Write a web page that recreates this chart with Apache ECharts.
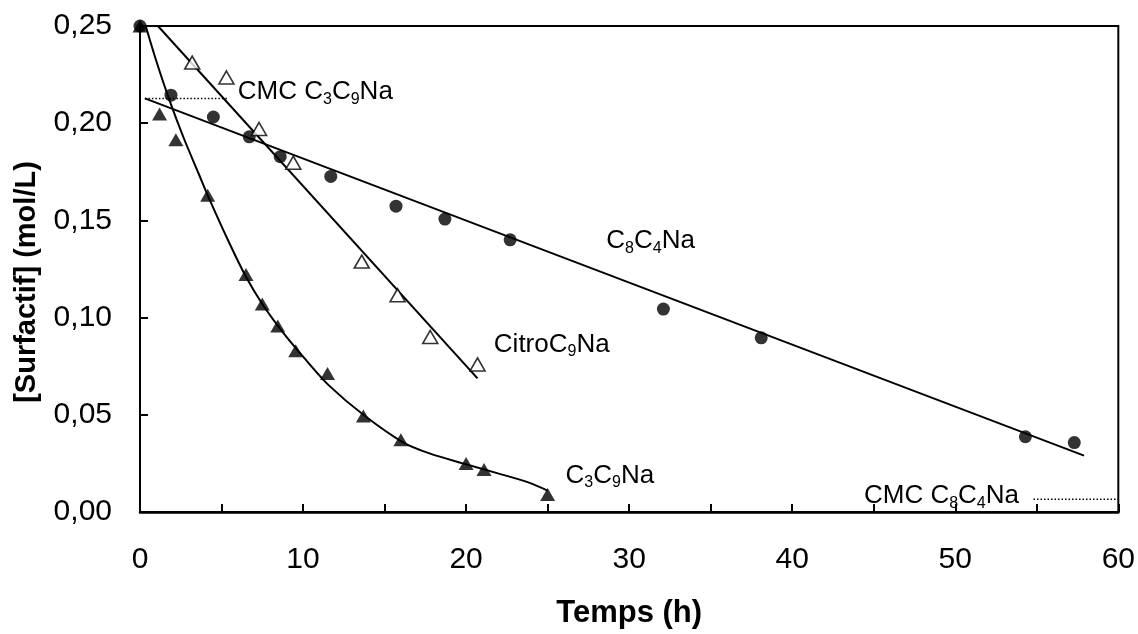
<!DOCTYPE html>
<html>
<head>
<meta charset="utf-8">
<script src="https://cdn.jsdelivr.net/npm/echarts@6/dist/echarts.min.js"></script>
<style>
  html, body { margin: 0; padding: 0; background: #fff; }
  #chart { width: 1138px; height: 634px; }
</style>
</head>
<body>
<div id="chart"></div>
<script>
// Surfactant concentration (mol/L) versus time (h)

// C8C4Na: measured points and linear fit
const c8c4Time = [0, 1.9, 4.5, 6.7, 8.6, 11.7, 15.7, 18.7, 22.7, 32.1, 38.1, 54.3, 57.3];
const c8c4Conc = [0.250, 0.2144, 0.2032, 0.1930, 0.1828, 0.1726, 0.1573, 0.1507, 0.1400, 0.1044, 0.0896, 0.0387, 0.0357];
const c8c4FitTime = [0.3, 57.9];
const c8c4FitConc = [0.2128, 0.0290];

// CitroC9Na: measured points and linear fit
const citroTime = [3.2, 5.3, 7.3, 9.4, 13.6, 15.8, 17.8, 20.7];
const citroConc = [0.2312, 0.2235, 0.1970, 0.1797, 0.1288, 0.1115, 0.0900, 0.0759];
const citroFitTime = [1.1, 20.7];
const citroFitConc = [0.250, 0.0687];

// C3C9Na: measured points and kinetic fit curve
const c3c9Time = [0, 1.2, 2.2, 4.15, 6.5, 7.5, 8.45, 9.55, 11.5, 13.7, 16.0, 20.0, 21.1, 25.0];
const c3c9Conc = [0.250, 0.2047, 0.1915, 0.1630, 0.1222, 0.1070, 0.0957, 0.0830, 0.0713, 0.0494, 0.0372, 0.0249, 0.0219, 0.0090];
const c3c9FitTime = [0.35, 1.0, 1.8, 2.7, 3.6, 4.2, 5.5, 6.5, 7.5, 8.8, 10.2, 11.6, 13.7, 16.1, 17.8, 19.8, 21.9, 23.9, 25.0];
const c3c9FitConc = [0.250, 0.232, 0.212, 0.192, 0.174, 0.162, 0.138, 0.121, 0.107, 0.092, 0.078, 0.065, 0.050, 0.036, 0.030, 0.025, 0.020, 0.015, 0.011];

// Critical micelle concentrations
const cmcC3C9Time = [0.3, 5.4];
const cmcC3C9Conc = [0.2127, 0.2127];
const cmcC8C4Time = [54.8, 60];
const cmcC8C4Conc = [0.0066, 0.0066];

// Tick labels
const xTickLabels = ['0', '10', '20', '30', '40', '50', '60'];
const yTickLabels = ['0,00', '0,05', '0,10', '0,15', '0,20', '0,25'];

const FONT = '"Liberation Sans", Arial, sans-serif';
const zip = (xs, ys) => xs.map((x, i) => [x, ys[i]]);

const chart = echarts.init(document.getElementById('chart'), null, { renderer: 'canvas' });

const lineSeries = (xs, ys, extra) => Object.assign({
  type: 'line',
  data: zip(xs, ys),
  showSymbol: false,
  symbol: 'none',
  silent: true,
  lineStyle: { color: '#000', width: 2 },
  z: 2
}, extra || {});

const option = {
  backgroundColor: '#fff',
  animation: false,
  grid: {
    left: 140, right: 18, top: 26, bottom: 117,
    show: true, borderColor: '#000', borderWidth: 2, backgroundColor: 'transparent'
  },
  xAxis: {
    type: 'value', min: 0, max: 60, interval: 5,
    name: 'Temps (h)', nameLocation: 'middle', nameGap: 86,
    nameTextStyle: { fontFamily: FONT, fontWeight: 'bold', fontSize: 31, color: '#000' },
    axisLine: { show: true, onZero: false, lineStyle: { color: '#000', width: 2.5 } },
    axisTick: { show: true, inside: true, length: 8, lineStyle: { color: '#000', width: 2 } },
    axisLabel: {
      margin: 33, fontFamily: FONT, fontSize: 30, color: '#000',
      formatter: v => (Math.round(v) % 10 === 0 ? xTickLabels[Math.round(v / 10)] : '')
    },
    splitLine: { show: false }
  },
  yAxis: {
    type: 'value', min: 0, max: 0.25, interval: 0.05,
    axisLine: { show: true, onZero: false, lineStyle: { color: '#000', width: 2 } },
    axisTick: { show: true, inside: true, length: 8, lineStyle: { color: '#000', width: 2 } },
    axisLabel: {
      margin: 28, fontFamily: FONT, fontSize: 30, color: '#000',
      formatter: v => yTickLabels[Math.round(v / 0.05)]
    },
    splitLine: { show: false }
  },
  series: [
    lineSeries(c8c4FitTime, c8c4FitConc),
    lineSeries(citroFitTime, citroFitConc),
    lineSeries(c3c9FitTime, c3c9FitConc, { smooth: 0.3 }),
    lineSeries(cmcC3C9Time, cmcC3C9Conc, { lineStyle: { color: '#000', width: 1.5, type: [1.5, 2] } }),
    lineSeries(cmcC8C4Time, cmcC8C4Conc, { lineStyle: { color: '#000', width: 1.5, type: [1.5, 2] } }),
    {
      name: 'C8C4Na', type: 'scatter', data: zip(c8c4Time, c8c4Conc),
      symbol: 'circle', symbolSize: 13, clip: false,
      itemStyle: { color: '#000' }, z: 4
    },
    {
      name: 'CitroC9Na', type: 'scatter', data: zip(citroTime, citroConc),
      symbol: 'triangle', symbolSize: [15, 13], clip: false,
      itemStyle: { color: '#fff', borderColor: '#000', borderWidth: 1.6 }, z: 4
    },
    {
      name: 'C3C9Na', type: 'scatter', data: zip(c3c9Time, c3c9Conc),
      symbol: 'triangle', symbolSize: [15, 13], clip: false,
      itemStyle: { color: '#000' }, z: 4
    }
  ]
};

chart.setOption(option);

// Curve labels, anchored at data coordinates (left edge, vertical middle)
const richStyles = {
  n: { fontFamily: FONT, fontSize: 26, lineHeight: 30, fill: '#000', color: '#000' },
  s: { fontFamily: FONT, fontSize: 16, lineHeight: 18, verticalAlign: 'bottom', fill: '#000', color: '#000' }
};
const annotations = [
  { text: '{n|CMC C}{s|3}{n|C}{s|9}{n|Na}', at: [6.0, 0.2159] },
  { text: '{n|C}{s|8}{n|C}{s|4}{n|Na}', at: [28.6, 0.1393] },
  { text: '{n|Citro}{n|C}{s|9}{n|Na}', at: [21.7, 0.0860] },
  { text: '{n|C}{s|3}{n|C}{s|9}{n|Na}', at: [26.1, 0.0188] },
  { text: '{n|CMC C}{s|8}{n|C}{s|4}{n|Na}', at: [44.4, 0.0081] }
];

const graphics = annotations.map(a => {
  const p = chart.convertToPixel({ gridIndex: 0 }, a.at);
  return {
    type: 'text', x: p[0], y: p[1], z: 10, silent: true,
    style: {
      text: a.text, rich: richStyles, fill: '#000',
      font: '26px ' + FONT,
      align: 'left', textAlign: 'left',
      verticalAlign: 'middle', textVerticalAlign: 'middle'
    }
  };
});

// Vertical axis title
graphics.push({
  type: 'text', x: 27, y: 282, rotation: Math.PI / 2, z: 10, silent: true,
  style: {
    text: '[Surfactif] (mol/L)', fill: '#000',
    font: 'bold 29px ' + FONT,
    align: 'center', textAlign: 'center',
    verticalAlign: 'middle', textVerticalAlign: 'middle'
  }
});

chart.setOption({ graphic: graphics });
</script>
</body>
</html>
